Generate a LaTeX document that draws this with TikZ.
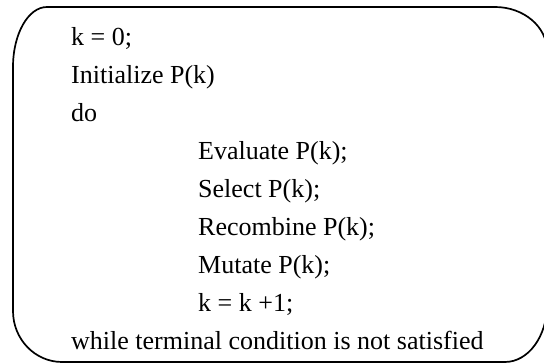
\documentclass[tikz,border=0pt]{standalone}
\usepackage{fontspec}
\setmainfont{Liberation Serif}
\begin{document}
\begin{tikzpicture}[x=1pt,y=1pt,
  codeline/.style={anchor=base west,inner sep=0pt,font=\fontsize{26}{31}\selectfont}]
\useasboundingbox (0,0) rectangle (544,364);
\clip (0,0) rectangle (544,364);
% outline of the pseudo-code panel, each corner with its own radii
\draw[line width=1.7pt]
  (13,297) -- (13,53)
  arc[start angle=180,end angle=270,x radius=49,y radius=51]
  -- (505,2)
  arc[start angle=270,end angle=360,x radius=42,y radius=57]
  -- (547,313)
  arc[start angle=0,end angle=90,x radius=52,y radius=44]
  -- (47,357)
  arc[start angle=90,end angle=180,x radius=34,y radius=60]
  -- cycle;
% pseudo-code lines
\node[codeline] (l1) at (71,318) {k = 0;};
\node[codeline] (l2) at (71,280) {Initialize P(k)};
\node[codeline] (l3) at (71,242) {do};
\node[codeline] (l4) at (198,204) {Evaluate P(k);};
\node[codeline] (l5) at (198,166) {Select P(k);};
\node[codeline] (l6) at (198,128) {Recombine P(k);};
\node[codeline] (l7) at (198,90) {Mutate P(k);};
\node[codeline] (l8) at (198,52) {k = k +1;};
\node[codeline] (l9) at (71,14) {while terminal condition is not satisfied};
\end{tikzpicture}
\end{document}
